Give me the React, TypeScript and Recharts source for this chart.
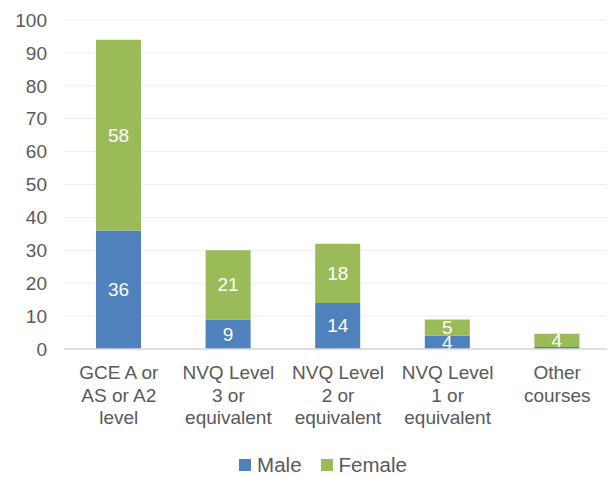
import React from "react";
import { BarChart, Bar, XAxis, YAxis, CartesianGrid, Legend, LabelList } from "recharts";

const categories = [
  "GCE A or AS or A2 level",
  "NVQ Level 3 or equivalent",
  "NVQ Level 2 or equivalent",
  "NVQ Level 1 or equivalent",
  "Other courses",
];
const categoryLines = [
  ["GCE A or", "AS or A2", "level"],
  ["NVQ Level", "3 or", "equivalent"],
  ["NVQ Level", "2 or", "equivalent"],
  ["NVQ Level", "1 or", "equivalent"],
  ["Other", "courses"],
];
const male = [36, 9, 14, 4, 0.6];
const female = [58, 21, 18, 5, 4];
const yTicks = [0, 10, 20, 30, 40, 50, 60, 70, 80, 90, 100];
const seriesNames = ["Male", "Female"];
const seriesColors = ["#4f81bd", "#9bbb59"];

const data = categories.map((c, i) => ({ name: c, Male: male[i], Female: female[i] }));

const FONT = "'Liberation Sans', Arial, sans-serif";
const FS = 19;

const XTick = (props: any) => {
  const { x, y, index } = props;
  const lines = categoryLines[index] || [];
  return (
    <g>
      {lines.map((l: string, i: number) => (
        <text
          key={i}
          x={x}
          y={y + 22 + i * 22.5}
          textAnchor="middle"
          fill="#595959"
          fontSize={FS}
          fontFamily={FONT}
        >
          {l}
        </text>
      ))}
    </g>
  );
};

const renderLabel = (props: any) => {
  const { x, y, width, height, value } = props;
  if (value < 1) return null;
  return (
    <text
      x={x + width / 2}
      y={y + height / 2}
      textAnchor="middle"
      dominantBaseline="central"
      fill="#ffffff"
      fontSize={FS}
      fontFamily={FONT}
    >
      {value}
    </text>
  );
};

const LegendContent = () => (
  <div
    style={{
      display: "flex",
      justifyContent: "center",
      alignItems: "center",
      fontFamily: FONT,
      fontSize: 20.5,
      color: "#595959",
      gap: 19,
      paddingLeft: 26,
    }}
  >
    {seriesNames.map((n, i) => (
      <div key={n} style={{ display: "flex", alignItems: "center" }}>
        <span
          style={{
            display: "inline-block",
            width: 12,
            height: 12,
            background: seriesColors[i],
            marginRight: 6,
          }}
        />
        <span>{n}</span>
      </div>
    ))}
  </div>
);

export default function App() {
  return (
    <div style={{ width: 607, height: 469 }}>
      <BarChart
        width={607}
        height={469}
        data={data}
        margin={{ top: 12, right: 3, left: 0, bottom: 0 }}
        barSize={45}
      >
        <CartesianGrid vertical={false} stroke="#ededed" />
        <XAxis
          dataKey="name"
          tick={<XTick />}
          tickLine={false}
          axisLine={{ stroke: "#d9d9d9", strokeWidth: 1.5 }}
          height={104}
          interval={0}
        />
        <YAxis
          domain={[0, 100]}
          ticks={yTicks}
          width={56}
          tickLine={false}
          axisLine={false}
          tickSize={0}
          tickMargin={17}
          tick={{ fill: "#595959", fontSize: FS, fontFamily: FONT }}
          interval={0}
        />
        <Legend verticalAlign="bottom" height={24} content={<LegendContent />} />
        <Bar dataKey="Male" stackId="a" fill={seriesColors[0]} isAnimationActive={false}>
          <LabelList dataKey="Male" content={renderLabel} />
        </Bar>
        <Bar dataKey="Female" stackId="a" fill={seriesColors[1]} isAnimationActive={false}>
          <LabelList dataKey="Female" content={renderLabel} />
        </Bar>
      </BarChart>
    </div>
  );
}
